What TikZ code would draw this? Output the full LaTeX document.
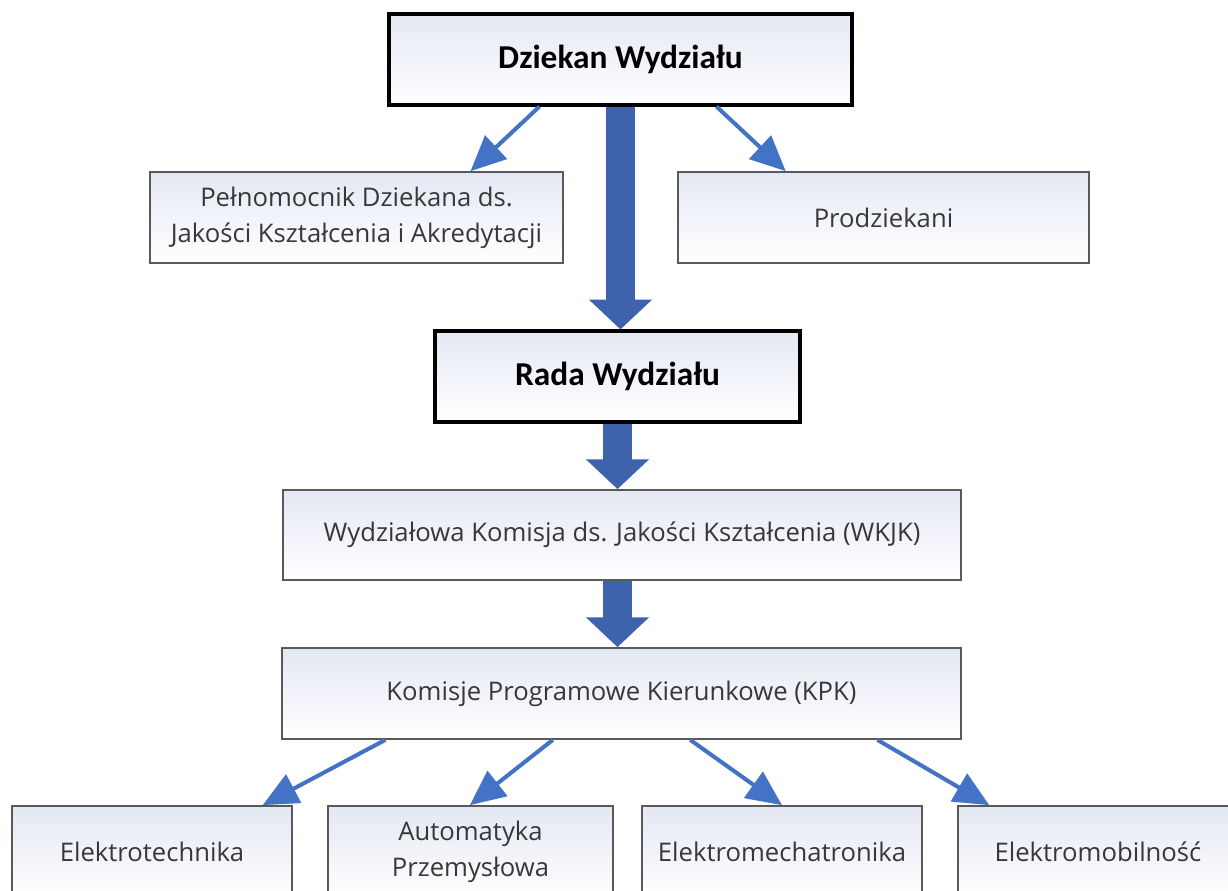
\documentclass[tikz,border=0pt]{standalone}
\usepackage{fontspec}
\setmainfont{Carlito}
\newfontfamily\bodyfont{Open Sans}
\usetikzlibrary{arrows.meta,calc}
\definecolor{thinblue}{HTML}{4472C4}
\definecolor{blockblue}{HTML}{3F62AD}
\definecolor{boxtop}{RGB}{228,232,243}
\definecolor{boxline}{HTML}{595959}
\definecolor{txt}{HTML}{383838}
\begin{document}
\begin{tikzpicture}[x=0.02cm,y=-0.02cm,
 box/.style={draw=boxline,line width=1pt,top color=boxtop,bottom color=white,minimum height=1.82cm,inner sep=0pt,align=center,text=txt,font=\bodyfont\fontsize{14.6}{20.4}\selectfont},
 headbox/.style={box,draw=black,line width=1.8pt,text=black,font=\rmfamily\bfseries\fontsize{19}{23}\selectfont},
 thinarr/.style={draw=thinblue,line width=2.3pt,-{Triangle[length=20pt,width=18pt,fill=thinblue]}},
 blockarr/.style={draw=blockblue,line width=16pt,-{Triangle[length=17pt,width=35pt,fill=blockblue]}}]
\useasboundingbox (0,0) rectangle (1228,890);
\clip (0,0) rectangle (1228,890);
\fill[white] (0,0) rectangle (1228,890);

\node[headbox,minimum width=9.26cm] (dz) at (620.5,59.5) {Dziekan Wydziału};
\node[box,minimum width=8.26cm] (pel) at (356.5,217.5) {Pełnomocnik Dziekana ds.\\Jakości Kształcenia i Akredytacji};
\node[box,minimum width=8.22cm] (pro) at (883.5,217.5) {Prodziekani};
\node[headbox,minimum width=7.3cm] (rada) at (617.5,376.5) {Rada Wydziału};
\node[box,minimum width=13.56cm,minimum height=1.8cm] (wkjk) at (622,535) {Wydziałowa Komisja ds. Jakości Kształcenia (WKJK)};
\node[box,minimum width=13.58cm] (kpk) at (621.5,693.5) {Komisje Programowe Kierunkowe (KPK)};
\node[box,minimum width=5.6cm,minimum height=1.84cm] (e1) at (152,852) {Elektrotechnika};
\node[box,minimum width=5.7cm,minimum height=1.84cm] (e2) at (470.5,852) {Automatyka\\Przemysłowa};
\node[box,minimum width=5.6cm,minimum height=1.84cm] (e3) at (782,852) {Elektromechatronika};
\node[box,minimum width=5.6cm,minimum height=1.84cm] (e4) at (1098,852) {Elektromobilność};

\draw[thinarr] ($(dz.south west)!0.326!(dz.south east)$) -- ($(pel.north west)!0.775!(pel.north east)$);
\draw[thinarr] ($(dz.south west)!0.706!(dz.south east)$) -- ($(pro.north west)!0.263!(pro.north east)$);
\draw[blockarr] (dz.south) -- (dz.south |- rada.north);
\draw[blockarr] (rada.south) -- (rada.south |- wkjk.north);
\draw[blockarr] (wkjk.south -| rada.south) -- (rada.south |- kpk.north);

\draw[thinarr] ($(kpk.south west)!0.153!(kpk.south east)$) -- ($(e1.north west)!0.893!(e1.north east)$);
\draw[thinarr] ($(kpk.south west)!0.399!(kpk.south east)$) -- ($(e2.north west)!0.498!(e2.north east)$);
\draw[thinarr] ($(kpk.south west)!0.601!(kpk.south east)$) -- ($(e3.north west)!0.5!(e3.north east)$);
\draw[thinarr] ($(kpk.south west)!0.876!(kpk.south east)$) -- ($(e4.north west)!0.114!(e4.north east)$);
\end{tikzpicture}
\end{document}
